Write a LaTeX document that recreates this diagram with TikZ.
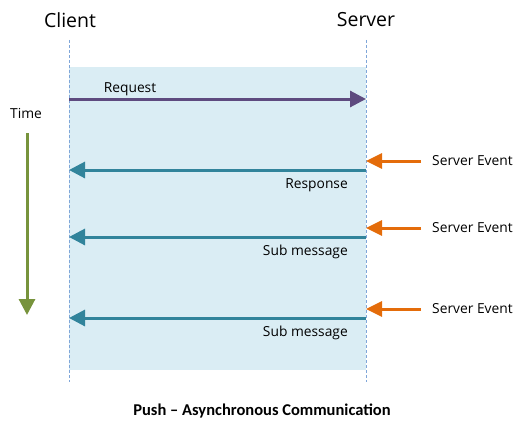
\documentclass[tikz,border=0pt]{standalone}
\usepackage{fontspec}
\setmainfont{Open Sans}
\newfontfamily\titlefont{Carlito}
\usepackage{xcolor}
\usetikzlibrary{arrows.meta}

\definecolor{lifeline}{HTML}{7FA6D9}
\definecolor{zone}{HTML}{DAEDF4}
\definecolor{reqcol}{HTML}{5E4B7F}
\definecolor{respcol}{HTML}{31849B}
\definecolor{eventcol}{HTML}{E46C0A}
\definecolor{timecol}{HTML}{77933C}

\tikzset{
  lifeline/.style={draw=lifeline, dash pattern=on 3pt off 2pt, line width=0.8pt},
  msg/.style={line width=3pt, -{Triangle[length=16pt,width=16pt]}},
  label/.style={font=\fontsize{13.8}{16}\selectfont, inner sep=0pt},
  party/.style={font=\fontsize{19.5}{22}\selectfont, inner sep=0pt}
}

\begin{document}
\begin{tikzpicture}[x=1pt,y=1pt]
            \useasboundingbox (0,0) rectangle (529,432);
            \fill[zone] (69,62) rectangle (366,365);
            % lifelines
            \node[party] (client) at (70,412) {Client};
            \node[party] (server) at (366,412) {Server};
            \coordinate (ctop) at (69,392);
            \coordinate (cbot) at (69,50);
            \coordinate (stop) at (366,392);
            \coordinate (sbot) at (366,50);
            \draw[lifeline] (ctop) -- (cbot);
            \draw[lifeline] (stop) -- (sbot);
            % request
            \coordinate (req0) at (69,333);
            \coordinate (req1) at (366,333);
            \draw[msg, reqcol] (req0) -- (req1);
            \node[label] (reqlbl) at (130,343) {Request};
            % responses
            \foreach \y/\txt/\n in {262/Response/1, 195/Sub message/2, 114/Sub message/3} {
              \coordinate (r\n a) at (366,\y);
              \coordinate (r\n b) at (69,\y);
              \draw[msg, respcol] (r\n a) -- (r\n b);
              \node[label, anchor=east] (rlbl\n) at (348,\y-15) {\txt};
              \coordinate (e\n a) at (421,\y+9);
              \coordinate (e\n b) at (366,\y+9);
              \draw[line width=3pt, eventcol, -{Triangle[length=16pt,width=15pt]}] (e\n a) -- (e\n b);
              \node[label, anchor=west] (elbl\n) at (432,\y+9) {Server\ Event};
            }
            % time
            \node[label] (time) at (26,318) {Time};
            \coordinate (t0) at (27,299);
            \coordinate (t1) at (27,117);
            \draw[line width=3pt, timecol, -{Triangle[length=16pt,width=16pt]}] (t0) -- (t1);
            \node[font=\titlefont\bfseries\fontsize{16.5}{19}\selectfont] (title) at (262,21) {Push – Asynchronous Communication};
        \end{tikzpicture}
\end{document}
